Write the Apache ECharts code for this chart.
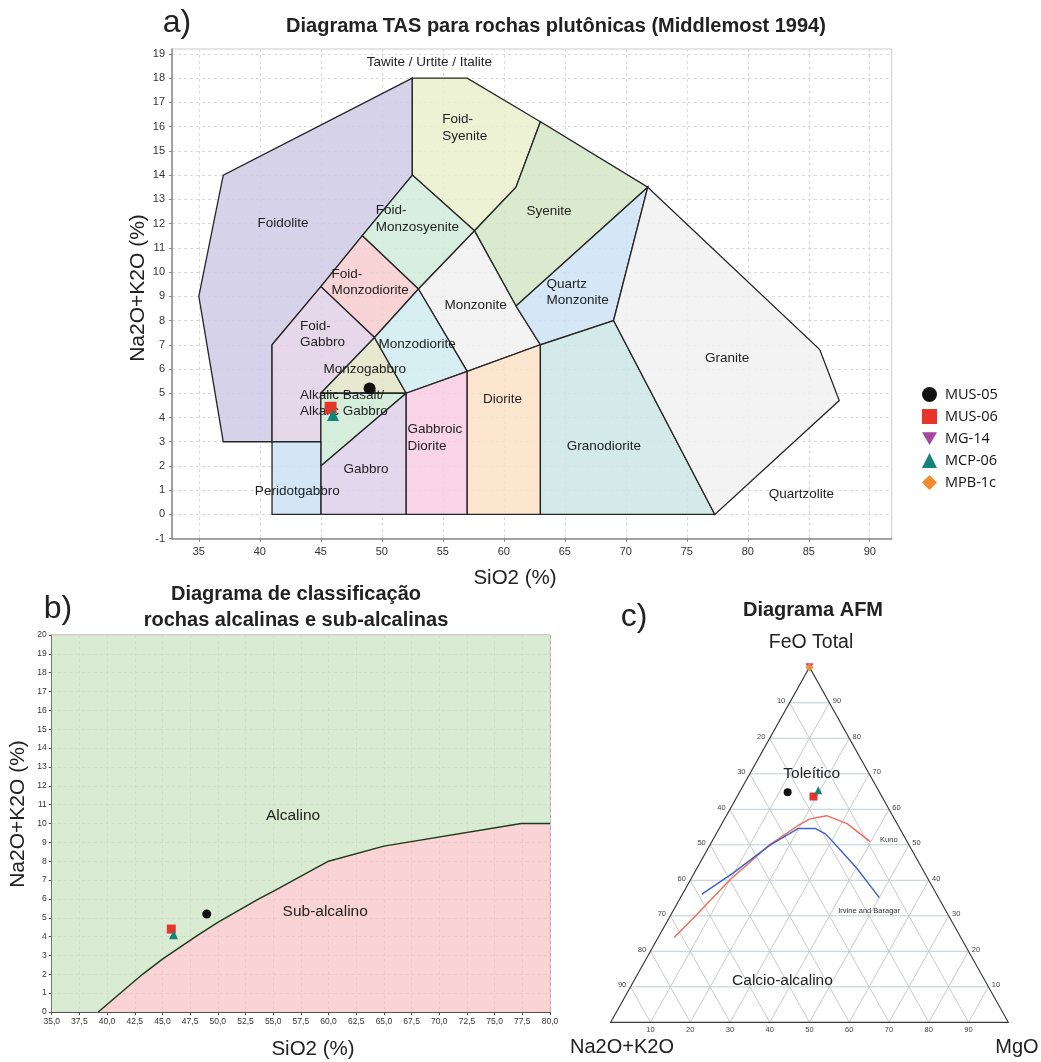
<!DOCTYPE html>
<html>
<head>
<meta charset="utf-8">
<script src="https://cdn.jsdelivr.net/npm/echarts@6/dist/echarts.min.js"></script>
<style>
  html, body { margin: 0; padding: 0; background: #ffffff; }
  #chart { width: 1041px; height: 1062px; }
</style>
</head>
<body>
<div id="chart"></div>
<script>
// ---------- Samples ----------
const samples = ['MUS-05', 'MUS-06', 'MG-14', 'MCP-06', 'MPB-1c'];
const sampleSiO2 = [49.0, 45.8, null, 46.0, null];
const sampleAlk = [5.2, 4.4, null, 4.1, null];
// AFM proportions (%): Na2O+K2O, FeO total, MgO
const sampleA = [23.1, 17.2, 0, 15.1, 0];
const sampleF = [64.8, 63.6, 100, 65.4, 100];
const sampleM = [12.1, 19.2, 0, 19.5, 0];

// ---------- TAS plutonic fields (SiO2, Na2O+K2O) ----------
const fieldNames = [
  'Foidolite', 'Foid-Syenite', 'Syenite', 'Foid-Monzosyenite', 'Foid-Monzodiorite',
  'Monzonite', 'Quartz Monzonite', 'Foid-Gabbro', 'Monzogabbro', 'Monzodiorite',
  'Alkalic Gabbro', 'Gabbro', 'Gabbroic Diorite', 'Diorite', 'Granodiorite',
  'Granite', 'Peridotgabbro'
];
const fieldVertices = [
  [[35, 9], [37, 3], [41, 3], [41, 7], [45, 9.4], [48.4, 11.5], [52.5, 14], [52.5, 18], [37, 14]],
  [[52.5, 14], [52.5, 18], [57, 18], [63, 16.2], [61, 13.5], [57.6, 11.7]],
  [[57.6, 11.7], [61, 13.5], [63, 16.2], [71.8, 13.5], [61, 8.6]],
  [[48.4, 11.5], [52.5, 14], [57.6, 11.7], [53, 9.3]],
  [[45, 9.4], [48.4, 11.5], [53, 9.3], [49.4, 7.3]],
  [[53, 9.3], [57.6, 11.7], [61, 8.6], [63, 7], [57, 5.9]],
  [[61, 8.6], [71.8, 13.5], [69, 8], [63, 7]],
  [[41, 3], [41, 7], [45, 9.4], [49.4, 7.3], [45, 5], [45, 3]],
  [[45, 5], [49.4, 7.3], [52, 5]],
  [[49.4, 7.3], [53, 9.3], [57, 5.9], [52, 5]],
  [[45, 2], [45, 5], [52, 5]],
  [[45, 0], [45, 2], [52, 5], [52, 0]],
  [[52, 0], [52, 5], [57, 5.9], [57, 0]],
  [[57, 0], [57, 5.9], [63, 7], [63, 0]],
  [[63, 0], [63, 7], [69, 8], [77.3, 0]],
  [[69, 8], [71.8, 13.5], [85.9, 6.8], [87.5, 4.7], [77.3, 0]],
  [[41, 0], [41, 3], [45, 3], [45, 0]]
];
const fieldColors = [
  '#d5d2ea', '#edf2d5', '#d9eacf', '#d8eee0', '#f9d4d6',
  '#f3f3f3', '#d5e6f7', '#e6d7eb', '#e6e8d0', '#d7eef3',
  '#d5eedb', '#e3d7ee', '#f9d4e6', '#fde6cf', '#d3eae8',
  '#f3f3f3', '#d3e6f6'
];
// field names written at their centre
const fieldLabels = [
  ['Tawite / Urtite / Italite', 53.9, 18.64],
  ['Foidolite', 41.9, 12.0],
  ['Syenite', 63.7, 12.5],
  ['Monzonite', 57.7, 8.64],
  ['Monzodiorite', 52.9, 7.0],
  ['Monzogabbro', 48.6, 5.97],
  ['Gabbro', 48.7, 1.88],
  ['Peridotgabbro', 43.07, 0.97],
  ['Diorite', 59.9, 4.74],
  ['Granodiorite', 68.2, 2.81],
  ['Granite', 78.3, 6.43],
  ['Quartzolite', 84.4, 0.82]
];
// two-line field names, written from their left edge
const fieldLabelsLeft = [
  ['Foid-\nSyenite', 54.95, 15.95],
  ['Foid-\nMonzosyenite', 49.5, 12.2],
  ['Foid-\nMonzodiorite', 45.87, 9.57],
  ['Quartz\nMonzonite', 63.5, 9.17],
  ['Foid-\nGabbro', 43.3, 7.43],
  ['Alkalic Basalt/\nAlkalic Gabbro', 43.3, 4.58],
  ['Gabbroic\nDiorite', 52.1, 3.16]
];
const tasXTicks = [35, 40, 45, 50, 55, 60, 65, 70, 75, 80, 85, 90];
const tasYTicks = [-1, 0, 1, 2, 3, 4, 5, 6, 7, 8, 9, 10, 11, 12, 13, 14, 15, 16, 17, 18, 19];

// ---------- Alkaline / sub-alkaline divide (Irvine & Baragar) ----------
const divideSiO2 = [39.2, 40, 43.2, 45, 48, 50, 53.7, 55, 60, 65, 77.4, 80];
const divideAlk = [0, 0.4, 2, 2.8, 4, 4.75, 6, 6.4, 8, 8.8, 10, 10];
const alkLabels = [
  ['Alcalino', 56.8, 10.4],
  ['Sub-alcalino', 59.7, 5.33]
];

// ---------- AFM (Na2O+K2O, FeO total, MgO) ----------
const ternTicks = [10, 20, 30, 40, 50, 60, 70, 80, 90];
const kunoLine = [
  [72.1, 23.9, 4.0], [64.6, 29.3, 6.1], [50.0, 40.1, 9.9], [35.2, 49.9, 14.9],
  [25.4, 55.3, 19.3], [21.2, 57.3, 21.5], [16.6, 58.2, 25.2], [12.5, 55.9, 31.6], [9.3, 50.9, 39.8]
];
const irvineLine = [
  [59.0, 36.1, 4.9], [48.1, 42.1, 9.8], [35.0, 49.9, 15.1], [25.5, 54.6, 19.9],
  [21.3, 54.6, 24.1], [19.4, 53.0, 27.6], [17.7, 47.6, 34.7], [16.4, 43.4, 40.2], [14.9, 35.1, 50.0]
];
const afmLabels = [
  ['Toleítico', 14.4, 70.1, 15.5],
  ['Calcio-alcalino', 51.0, 11.6, 37.4]
];
const afmSmallLabels = [
  ['Kuno', 4.4, 51.3, 44.3],
  ['Irvine and Baragar', 19.3, 31.4, 49.3]
];

// ---------- styling helpers ----------
const FONT = '"Liberation Sans", Arial, sans-serif';
const sampleSymbols = ['circle', 'rect', 'path://M0,0L20,0L10,17Z', 'triangle', 'diamond'];
const sampleColors = ['#111111', '#e8352c', '#a4479f', '#138478', '#f58a2b'];

// translucent fill that shows the given colour over white
function veil(hex, a) {
  const n = parseInt(hex.slice(1), 16);
  const ch = [(n >> 16) & 255, (n >> 8) & 255, n & 255]
    .map(c => Math.max(0, Math.round(255 - (255 - c) / a)));
  return 'rgba(' + ch.join(',') + ',' + a + ')';
}
// ternary (A, F, M) -> unit cartesian, F at the apex
function tern(a, f, m) {
  const s = a + f + m;
  return [(m + f / 2) / s, f / s];
}

function textSeries(gridIdx, items, style, z) {
  return {
    type: 'custom', xAxisIndex: gridIdx, yAxisIndex: gridIdx, silent: true, z: z || 4,
    data: items.map(it => [it[1], it[2]]),
    renderItem(params, api) {
      const it = items[params.dataIndex];
      const p = api.coord([api.value(0), api.value(1)]);
      return { type: 'text', x: p[0], y: p[1], style: Object.assign({ text: it[0] }, style) };
    }
  };
}

function polygonSeries(gridIdx, polys, fills, stroke, lw) {
  return {
    type: 'custom', xAxisIndex: gridIdx, yAxisIndex: gridIdx, silent: true, z: 2,
    data: polys.map((p, i) => [i]),
    renderItem(params, api) {
      const i = params.dataIndex;
      return {
        type: 'polygon',
        shape: { points: polys[i].map(p => api.coord(p)) },
        style: { fill: fills[i], stroke: stroke, lineWidth: lw }
      };
    }
  };
}

const series = [];

// ===== a) TAS =====
series.push(polygonSeries(0, fieldVertices, fieldColors.map(c => veil(c, 0.85)), '#262626', 1.3));
series.push(textSeries(0, fieldLabels,
  { font: '13.5px ' + FONT, fill: '#222', align: 'center', verticalAlign: 'middle' }));
series.push(textSeries(0, fieldLabelsLeft,
  { font: '13.5px ' + FONT, fill: '#222', align: 'left', verticalAlign: 'middle', lineHeight: 16.5 }));

// ===== b) alkaline vs sub-alkaline =====
const alkXMin = 35, alkXMax = 80, alkYMin = 0, alkYMax = 20;
const divide = divideSiO2.map((s, i) => [s, divideAlk[i]]);
const alcalinoPoly = [[alkXMin, alkYMin]].concat(divide, [[alkXMax, alkYMax], [alkXMin, alkYMax]]);
const subPoly = divide.concat([[alkXMax, alkYMin]]);
series.push(polygonSeries(1, [alcalinoPoly, subPoly], [veil('#d9ebd2', 0.85), veil('#fad4d4', 0.85)], 'none', 0));
series.push({
  type: 'line', xAxisIndex: 1, yAxisIndex: 1, data: divide, symbol: 'none', silent: true, z: 3,
  lineStyle: { color: '#1d3b1d', width: 1.5 }
});
series.push(textSeries(1, alkLabels,
  { font: '15.5px ' + FONT, fill: '#222', align: 'center', verticalAlign: 'middle' }));

// ===== c) AFM =====
series.push({
  type: 'custom', xAxisIndex: 2, yAxisIndex: 2, silent: true, z: 1,
  data: ternTicks.map(t => [t]),
  renderItem(params, api) {
    const t = ternTicks[params.dataIndex];
    const seg = (p, q, color) => {
      const a = api.coord(p), b = api.coord(q);
      return { type: 'line', shape: { x1: a[0], y1: a[1], x2: b[0], y2: b[1] },
        style: { stroke: color, lineWidth: 0.9 } };
    };
    return { type: 'group', children: [
      seg(tern(100 - t, t, 0), tern(0, t, 100 - t), '#b7c6d6'),
      seg(tern(t, 100 - t, 0), tern(t, 0, 100 - t), '#c4c4c4'),
      seg(tern(100 - t, 0, t), tern(0, 100 - t, t), '#c4c4c4')
    ] };
  }
});
series.push({
  type: 'custom', xAxisIndex: 2, yAxisIndex: 2, silent: true, z: 2,
  data: [[0]],
  renderItem(params, api) {
    return {
      type: 'polygon',
      shape: { points: [tern(100, 0, 0), tern(0, 100, 0), tern(0, 0, 100)].map(p => api.coord(p)) },
      style: { fill: 'none', stroke: '#3a3a3a', lineWidth: 1.2 }
    };
  }
});
series.push({
  type: 'custom', xAxisIndex: 2, yAxisIndex: 2, silent: true, z: 3,
  data: ternTicks.map(t => [t]),
  renderItem(params, api) {
    const t = ternTicks[params.dataIndex];
    const L = api.coord(tern(t, 100 - t, 0));
    const R = api.coord(tern(0, t, 100 - t));
    const B = api.coord(tern(100 - t, 0, t));
    const st = { text: String(t), font: '7.5px ' + FONT, fill: '#444', align: 'center', verticalAlign: 'middle' };
    return { type: 'group', children: [
      { type: 'text', x: L[0] - 8.5, y: L[1] - 1.5, style: st },
      { type: 'text', x: R[0] + 7.5, y: R[1] - 1.5, style: st },
      { type: 'text', x: B[0], y: B[1] + 8, style: st }
    ] };
  }
});
series.push({
  type: 'line', xAxisIndex: 2, yAxisIndex: 2, symbol: 'none', silent: true, z: 3,
  data: kunoLine.map(p => tern(p[0], p[1], p[2])),
  lineStyle: { color: '#f26a5a', width: 1.4 }
});
series.push({
  type: 'line', xAxisIndex: 2, yAxisIndex: 2, symbol: 'none', silent: true, z: 3,
  data: irvineLine.map(p => tern(p[0], p[1], p[2])),
  lineStyle: { color: '#3b5fcc', width: 1.4 }
});
series.push(textSeries(2, afmLabels.map(l => [l[0]].concat(tern(l[1], l[2], l[3]))),
  { font: '15.5px ' + FONT, fill: '#222', align: 'center', verticalAlign: 'middle' }));
series.push(textSeries(2, afmSmallLabels.map(l => [l[0]].concat(tern(l[1], l[2], l[3]))),
  { font: '7.5px ' + FONT, fill: '#333', align: 'center', verticalAlign: 'middle' }));

// ===== samples on all three diagrams =====
samples.forEach((name, i) => {
  const base = {
    type: 'scatter', name: name, symbol: sampleSymbols[i], z: 6,
    itemStyle: { color: sampleColors[i], opacity: 1 }
  };
  if (sampleSiO2[i] != null) {
    series.push(Object.assign({}, base, { xAxisIndex: 0, yAxisIndex: 0, symbolSize: 12,
      data: [[sampleSiO2[i], sampleAlk[i]]] }));
    series.push(Object.assign({}, base, { xAxisIndex: 1, yAxisIndex: 1, symbolSize: 9,
      data: [[sampleSiO2[i], sampleAlk[i]]] }));
  }
  series.push(Object.assign({}, base, { xAxisIndex: 2, yAxisIndex: 2, symbolSize: 8,
    data: [tern(sampleA[i], sampleF[i], sampleM[i])] }));
});

const tasAxisLine = { show: true, onZero: false, lineStyle: { color: '#8a8a8a', width: 1.5 } };
const alkAxisLine = { show: true, onZero: false, lineStyle: { color: '#555', width: 1 } };

const option = {
  backgroundColor: '#ffffff',
  animation: false,
  grid: [
    { left: 172, top: 49, right: 149.3, bottom: 523.3, show: true, borderColor: '#cacaca', borderWidth: 1,
      backgroundColor: 'transparent', containLabel: false, outerBoundsMode: 'none' },
    { left: 51.7, top: 635, right: 491, bottom: 50, show: true, borderColor: '#c58a80', borderWidth: 1,
      backgroundColor: 'transparent', containLabel: false, outerBoundsMode: 'none' },
    { left: 610.7, top: 667.3, right: 32.7, bottom: 39.7, containLabel: false, outerBoundsMode: 'none' }
  ],
  xAxis: [
    { gridIndex: 0, type: 'value', min: 32.8, max: 91.8,
      axisLine: tasAxisLine,
      axisTick: { show: true, customValues: tasXTicks, length: 3, lineStyle: { color: '#8a8a8a' } },
      axisLabel: { customValues: tasXTicks, fontSize: 11, color: '#333', margin: 8, fontFamily: FONT },
      splitLine: { show: true, lineStyle: { color: '#dadada', type: [3, 3], width: 1 } } },
    { gridIndex: 1, type: 'value', min: alkXMin, max: alkXMax, interval: 2.5,
      axisLine: alkAxisLine,
      axisTick: { show: true, length: 3, lineStyle: { color: '#555' } },
      axisLabel: { fontSize: 8.5, color: '#333', margin: 5, fontFamily: FONT,
        formatter: v => v.toFixed(1).replace('.', ',') },
      splitLine: { show: true, lineStyle: { color: '#b4b4b4', type: [3, 3], width: 1 } } },
    { gridIndex: 2, type: 'value', min: 0, max: 1, show: false, splitLine: { show: false } }
  ],
  yAxis: [
    { gridIndex: 0, type: 'value', min: -1, max: 19.2,
      axisLine: tasAxisLine,
      axisTick: { show: true, customValues: tasYTicks, length: 3, lineStyle: { color: '#8a8a8a' } },
      axisLabel: { customValues: tasYTicks, fontSize: 11, color: '#333', margin: 7, fontFamily: FONT },
      splitLine: { show: true, lineStyle: { color: '#dadada', type: [3, 3], width: 1 } } },
    { gridIndex: 1, type: 'value', min: alkYMin, max: alkYMax, interval: 1,
      axisLine: alkAxisLine,
      axisTick: { show: true, length: 3, lineStyle: { color: '#555' } },
      axisLabel: { fontSize: 8.5, color: '#333', margin: 5, fontFamily: FONT },
      splitLine: { show: true, lineStyle: { color: '#b4b4b4', type: [3, 3], width: 1 } } },
    { gridIndex: 2, type: 'value', min: 0, max: 1, show: false, splitLine: { show: false } }
  ],
  legend: {
    orient: 'vertical', left: 917, top: 382, itemWidth: 15, itemHeight: 15, itemGap: 7,
    selectedMode: false,
    data: samples.map((n, i) => ({ name: n, icon: sampleSymbols[i] })),
    textStyle: { fontFamily: '"Open Sans", sans-serif', fontSize: 14.5, color: '#111', padding: [0, 0, 0, 3] }
  },
  graphic: [
    { type: 'text', x: 177, y: 23, style: { text: 'a)', font: '32px ' + FONT, fill: '#222', align: 'center', verticalAlign: 'middle' } },
    { type: 'text', x: 556, y: 26, style: { text: 'Diagrama TAS para rochas plutônicas (Middlemost 1994)', font: 'bold 20px ' + FONT, fill: '#222', align: 'center', verticalAlign: 'middle' } },
    { type: 'text', x: 138, y: 288, rotation: Math.PI / 2, style: { text: 'Na2O+K2O (%)', font: '21px ' + FONT, fill: '#222', align: 'center', verticalAlign: 'middle' } },
    { type: 'text', x: 515, y: 578, style: { text: 'SiO2 (%)', font: '20.5px ' + FONT, fill: '#222', align: 'center', verticalAlign: 'middle' } },

    { type: 'text', x: 58, y: 609, style: { text: 'b)', font: '32px ' + FONT, fill: '#222', align: 'center', verticalAlign: 'middle' } },
    { type: 'text', x: 296, y: 607, style: { text: 'Diagrama de classificação\nrochas alcalinas e sub-alcalinas', font: 'bold 20px ' + FONT, lineHeight: 26, fill: '#222', align: 'center', verticalAlign: 'middle' } },
    { type: 'text', x: 18, y: 814, rotation: Math.PI / 2, style: { text: 'Na2O+K2O (%)', font: '21px ' + FONT, fill: '#222', align: 'center', verticalAlign: 'middle' } },
    { type: 'text', x: 313, y: 1049, style: { text: 'SiO2 (%)', font: '20.5px ' + FONT, fill: '#222', align: 'center', verticalAlign: 'middle' } },

    { type: 'text', x: 634, y: 617, style: { text: 'c)', font: '32px ' + FONT, fill: '#222', align: 'center', verticalAlign: 'middle' } },
    { type: 'text', x: 813, y: 610, style: { text: 'Diagrama AFM', font: 'bold 20px ' + FONT, fill: '#222', align: 'center', verticalAlign: 'middle' } },
    { type: 'text', x: 811, y: 643, style: { text: 'FeO Total', font: '19.5px ' + FONT, fill: '#222', align: 'center', verticalAlign: 'middle' } },
    { type: 'text', x: 622, y: 1047, style: { text: 'Na2O+K2O', font: '20px ' + FONT, fill: '#222', align: 'center', verticalAlign: 'middle' } },
    { type: 'text', x: 1017, y: 1047, style: { text: 'MgO', font: '20px ' + FONT, fill: '#222', align: 'center', verticalAlign: 'middle' } }
  ],
  series: series
};

const chart = echarts.init(document.getElementById('chart'), null, { renderer: 'canvas' });
chart.setOption(option);
</script>
</body>
</html>
